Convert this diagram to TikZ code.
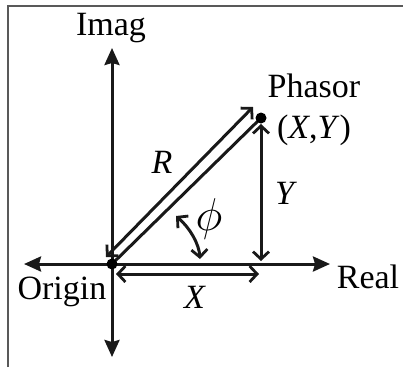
\RequirePackage{fix-cm}
\documentclass[tikz,border=0pt]{standalone}
\usepackage{fontspec}
\setmainfont{Liberation Serif}
\usetikzlibrary{arrows.meta,calc}
\begin{document}
\begin{tikzpicture}[x=1pt,y=-1pt,
  ln/.style={line width=3pt,draw=black!90},
  axis/.style={ln,{Stealth[length=17pt,width=15pt,inset=2pt]}-{Stealth[length=17pt,width=15pt,inset=2pt]}},
  dim/.style={ln,{Straight Barb[length=7.5pt,width=16pt,line width=2.8pt]}-{Straight Barb[length=7.5pt,width=16pt,line width=2.8pt]}},
  lbl/.style={inner sep=0pt,anchor=base,font=\fontsize{34}{37}\selectfont}]
\useasboundingbox (0,0) rectangle (403,367);
% frame
\draw[line width=2pt,black!65] (8,367) -- (8,5.5) -- (403,5.5);
% points
\coordinate (O) at (112,264);
\coordinate (P) at (261,118);
\coordinate (T) at (112,48);
\coordinate (B) at (112,357);
\coordinate (L) at (24,264);
\coordinate (Rr) at (330,264);
% axes
\draw[axis] (B) -- (T);
\draw[axis] (L) -- (Rr);
% phasor line
\draw[ln] (O) -- (P);
% R double arrow, offset
\coordinate (Ra) at ($(O)+(-6,-7)$);
\coordinate (Rb) at ($(P)+(-8,-11)$);
\draw[dim] (Ra) -- (Rb);
% X arrow
\coordinate (Xa) at (116,274);
\coordinate (Xb) at (259,274);
\draw[dim] (Xa) -- (Xb);
% Y arrow
\coordinate (Ya) at (261,124);
\coordinate (Yb) at (261,261);
\draw[dim] (Ya) -- (Yb);
% phi arc
\coordinate (Fa) at (176,216);
\coordinate (Fb) at (200,259);
\draw[dim] (Fa) .. controls (190,228) and (199,244) .. (Fb);
% dots
\fill[black] (O) circle (5.5);
\fill[black] (P) circle (5.5);
% labels
\node[lbl] (imag) at (111,35) {Imag};
\node[lbl] (phasor) at (314,97) {Phasor};
\node[lbl] (xy) at (314,138) {(\textit{X},\textit{Y})};
\node[lbl] (rl) at (162,173) {\textit{R}};
\node[lbl] (yl) at (286,204) {\textit{Y}};
\node[lbl,anchor=center,font=\fontsize{46}{48}\selectfont] (phil) at (209,219) {$\phi$};
\node[lbl] (orig) at (62,299) {Origin};
\node[lbl] (xl) at (195,308) {\textit{X}};
\node[lbl] (real) at (368,288) {Real};
\end{tikzpicture}
\end{document}
